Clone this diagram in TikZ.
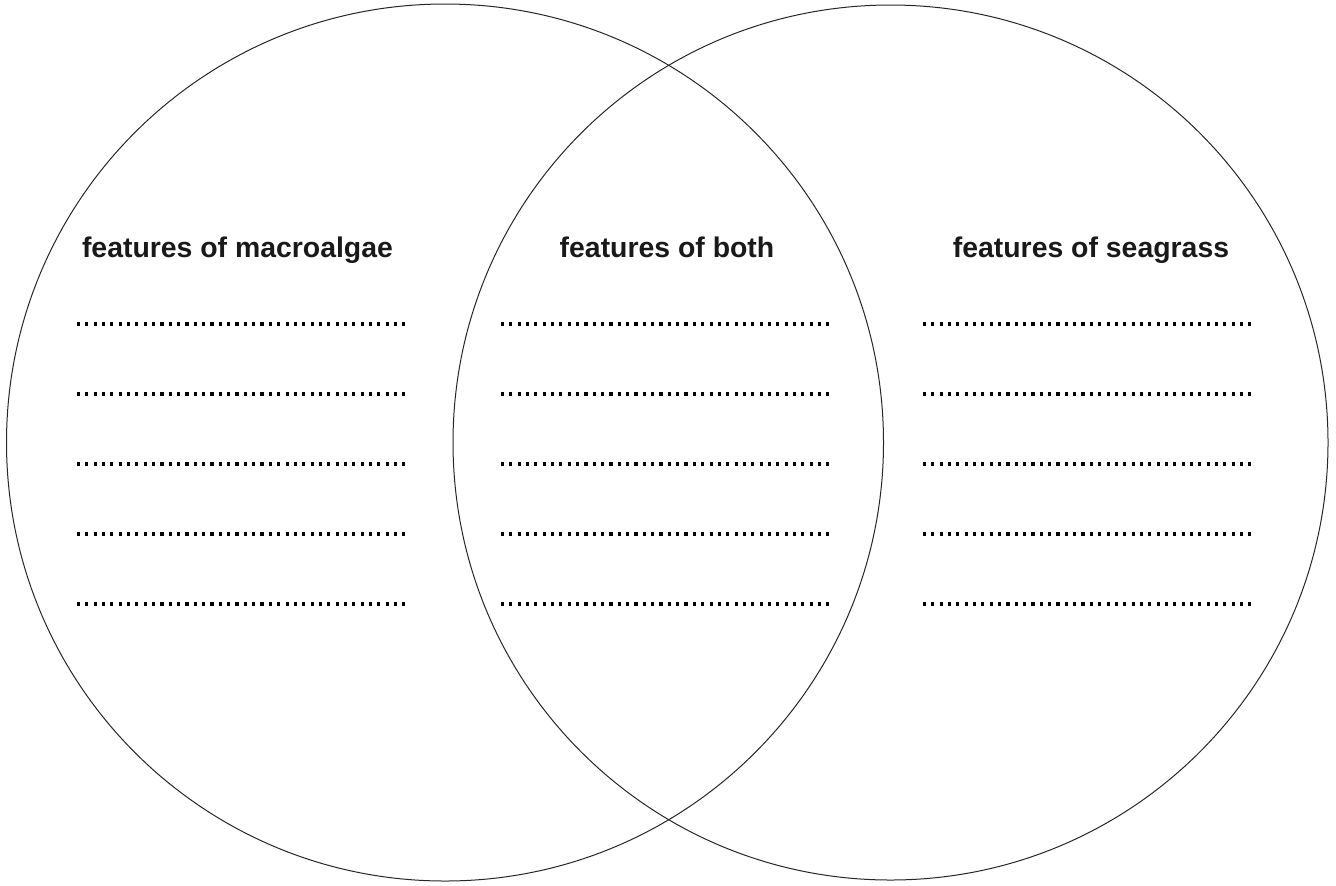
\documentclass[tikz,border=0pt]{standalone}
\usepackage{fontspec}
\setmainfont{Liberation Sans}
\begin{document}
\begin{tikzpicture}[x=0.5pt, y=-0.5pt,
		heading/.style={font=\fontsize{14.2pt}{17pt}\selectfont\bfseries, text=black!90, anchor=base, inner sep=0pt},
		answerline/.style={black, line width=1.55pt, dash pattern=on 1.55pt off 2.62pt}]
		\useasboundingbox (0, 0) rectangle (1336, 885);

		% Two sets
		\draw[line width=0.5pt, black!85] (445, 442.5) circle(438.5);
		\draw[line width=0.5pt, black!85] (890.5, 442.5) circle(437.5);

		% Headings
		\node[heading] (macro) at (237.5, 257) {features of macroalgae};
		\node[heading] (both) at (667, 257) {features of both};
		\node[heading] (sea) at (1091, 257) {features of seagrass};

		% Lines to write on
		\foreach \y in {324, 394, 464, 534, 604} {
			\draw[answerline] (77, \y) -- (406, \y);
			\draw[answerline] (501, \y) -- (832, \y);
			\draw[answerline] (923, \y) -- (1254, \y);
		}
	\end{tikzpicture}
\end{document}
